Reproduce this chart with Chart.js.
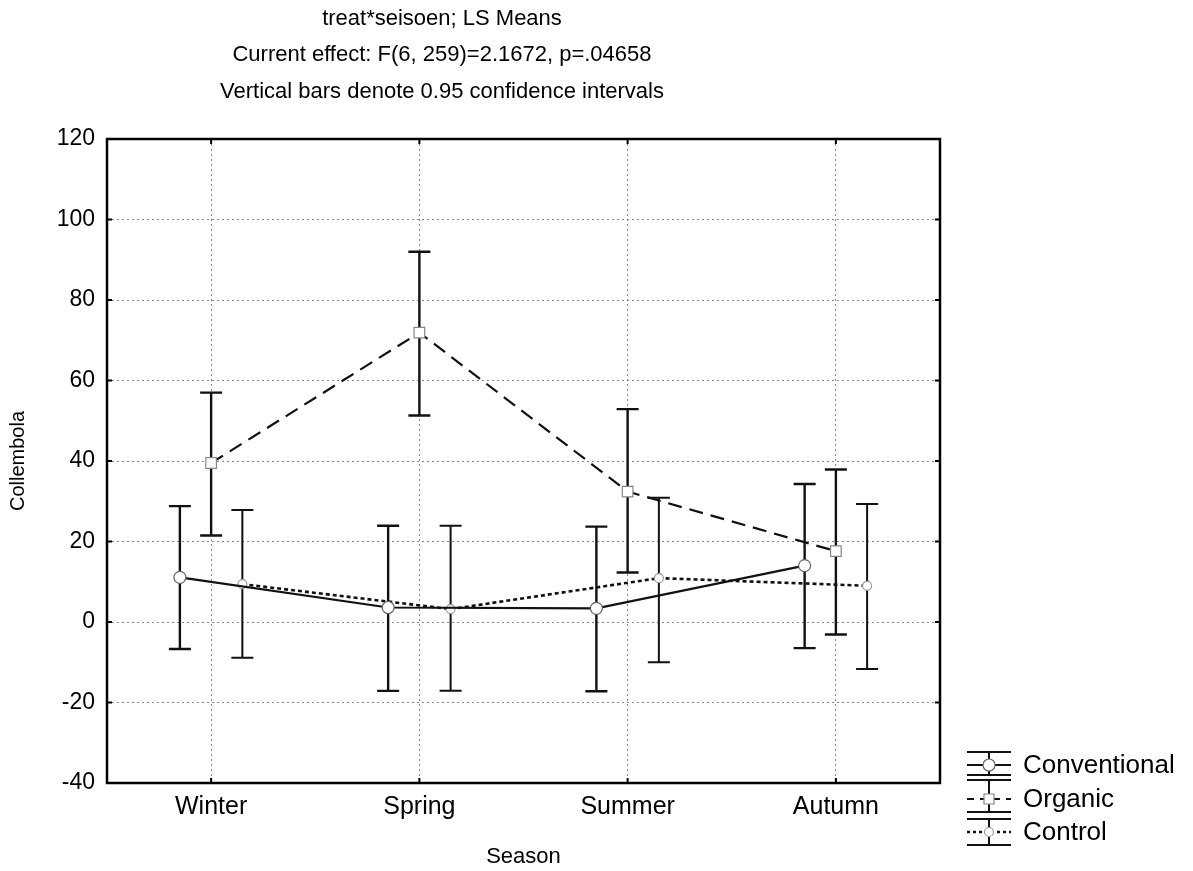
<!DOCTYPE html>
<html>
<head>
<meta charset="utf-8">
<script src="https://cdn.jsdelivr.net/npm/chart.js@4"></script>
<style>
html,body{margin:0;padding:0;background:#fff;}
#wrap{position:relative;width:1193px;height:871px;}
canvas{display:block;}
</style>
</head>
<body>
<div id="wrap"><canvas id="c" width="1193" height="871"></canvas></div>
<script>
const seasons = ['Winter', 'Spring', 'Summer', 'Autumn'];
const seriesNames = ['Conventional', 'Organic', 'Control'];
const conventionalMean = [11.1, 3.6, 3.4, 14.0];
const conventionalLow  = [-6.7, -17.1, -17.2, -6.5];
const conventionalHigh = [28.8, 23.9, 23.7, 34.3];
const organicMean = [39.5, 71.9, 32.4, 17.6];
const organicLow  = [21.5, 51.3, 12.3, -3.1];
const organicHigh = [57.0, 92.0, 52.9, 37.9];
const controlMean = [9.4, 3.2, 10.9, 9.0];
const controlLow  = [-8.9, -17.1, -10.0, -11.7];
const controlHigh = [27.8, 23.9, 30.9, 29.3];
const yTicks = [-40, -20, 0, 20, 40, 60, 80, 100, 120];
const titleLines = ['treat*seisoen; LS Means', 'Current effect: F(6, 259)=2.1672, p=.04658', 'Vertical bars denote 0.95 confidence intervals'];

const FONT = '"Liberation Sans", Arial, sans-serif';
const offsets = [-0.15, 0, 0.15];
const means = [conventionalMean, organicMean, controlMean];
const lows = [conventionalLow, organicLow, controlLow];
const highs = [conventionalHigh, organicHigh, controlHigh];
const styles = [
  {dash: [], width: 2.2, pointStyle: 'circle', radius: 6, barWidth: 2.4, pborder: '#666'},
  {dash: [14, 8], width: 2.2, pointStyle: 'rect', radius: 7.5, barWidth: 2.4, pborder: '#888'},
  {dash: [4, 3], width: 2.6, pointStyle: 'circle', radius: 4.5, barWidth: 2.0, pborder: '#999'}
];

const datasets = seriesNames.map((name, s) => ({
  label: name,
  data: means[s].map((v, i) => ({x: i + offsets[s], y: v})),
  borderColor: '#111',
  borderWidth: styles[s].width,
  borderDash: styles[s].dash,
  pointStyle: styles[s].pointStyle,
  pointRadius: styles[s].radius,
  pointBackgroundColor: '#fff',
  pointBorderColor: styles[s].pborder,
  pointBorderWidth: 1.2,
  tension: 0,
  fill: false
}));

const errorBars = {
  id: 'errorBars',
  beforeDatasetsDraw(chart) {
    const {ctx} = chart;
    const xs = chart.scales.x, ys = chart.scales.y;
    ctx.save();
    ctx.strokeStyle = '#111';
    for (let s = 0; s < 3; s++) {
      ctx.lineWidth = styles[s].barWidth;
      for (let i = 0; i < seasons.length; i++) {
        const x = xs.getPixelForValue(i + offsets[s]);
        const yl = ys.getPixelForValue(lows[s][i]);
        const yh = ys.getPixelForValue(highs[s][i]);
        ctx.beginPath();
        ctx.moveTo(x, yl); ctx.lineTo(x, yh);
        ctx.moveTo(x - 11, yl); ctx.lineTo(x + 11, yl);
        ctx.moveTo(x - 11, yh); ctx.lineTo(x + 11, yh);
        ctx.stroke();
      }
    }
    ctx.restore();
  },
  afterDraw(chart) {
    const {ctx, chartArea: a} = chart;
    const xs = chart.scales.x, ys = chart.scales.y;
    ctx.save();
    // frame
    ctx.strokeStyle = '#000';
    ctx.lineWidth = 2.5;
    ctx.strokeRect(a.left, a.top, a.right - a.left, a.bottom - a.top);
    // inner ticks
    ctx.lineWidth = 2;
    ctx.beginPath();
    yTicks.forEach(v => {
      const y = ys.getPixelForValue(v);
      ctx.moveTo(a.left, y); ctx.lineTo(a.left + 5, y);
      ctx.moveTo(a.right, y); ctx.lineTo(a.right - 5, y);
    });
    seasons.forEach((_, i) => {
      const x = xs.getPixelForValue(i);
      ctx.moveTo(x, a.top); ctx.lineTo(x, a.top + 5);
      ctx.moveTo(x, a.bottom); ctx.lineTo(x, a.bottom - 5);
    });
    ctx.stroke();

    // titles
    ctx.fillStyle = '#000';
    ctx.font = '22px ' + FONT;
    ctx.textAlign = 'center';
    ctx.textBaseline = 'middle';
    const ty = [19, 55, 92];
    titleLines.forEach((t, k) => ctx.fillText(t, 442, ty[k]));

    // legend
    const lx0 = 967, lx1 = 1011, lc = 989;
    const rows = [
      {top: 752, mid: 765, bot: 775},
      {top: 780, mid: 799, bot: 812},
      {top: 819, mid: 832, bot: 845}
    ];
    rows.forEach((r, s) => {
      ctx.strokeStyle = '#111';
      ctx.lineWidth = 2;
      ctx.setLineDash([]);
      ctx.beginPath();
      ctx.moveTo(lx0, r.top); ctx.lineTo(lx1, r.top);
      ctx.moveTo(lx0, r.bot); ctx.lineTo(lx1, r.bot);
      ctx.moveTo(lc, r.top); ctx.lineTo(lc, r.bot);
      ctx.stroke();
      ctx.lineWidth = styles[s].width;
      ctx.setLineDash(styles[s].dash.length ? (s === 1 ? [7, 6] : [3, 3]) : []);
      ctx.beginPath();
      ctx.moveTo(lx0, r.mid); ctx.lineTo(lx1, r.mid);
      ctx.stroke();
      ctx.setLineDash([]);
      ctx.fillStyle = '#fff';
      ctx.strokeStyle = styles[s].pborder;
      ctx.lineWidth = 1.2;
      ctx.beginPath();
      if (s === 1) {
        ctx.rect(lc - 5, r.mid - 5, 10, 10);
      } else {
        ctx.arc(lc, r.mid, s === 0 ? 6 : 4.5, 0, Math.PI * 2);
      }
      ctx.fill(); ctx.stroke();
      ctx.fillStyle = '#000';
      ctx.font = '26px ' + FONT;
      ctx.textAlign = 'left';
      ctx.textBaseline = 'middle';
      ctx.fillText(seriesNames[s], 1023, r.mid + 1);
    });
    ctx.restore();
  }
};

new Chart(document.getElementById('c'), {
  type: 'line',
  data: {datasets},
  options: {
    responsive: false,
    animation: false,
    layout: {padding: {top: 139, right: 253, left: 0, bottom: 0}},
    plugins: {legend: {display: false}, tooltip: {enabled: false}, title: {display: false}},
    scales: {
      x: {
        type: 'linear',
        min: -0.5,
        max: 3.5,
        afterBuildTicks(scale) { scale.ticks = seasons.map((_, i) => ({value: i})); },
        afterFit(scale) { scale.height = 88; },
        ticks: {
          callback: (v) => seasons[v],
          font: {size: 25, family: FONT},
          color: '#000',
          padding: 9,
          autoSkip: false,
          maxRotation: 0
        },
        grid: {color: '#888', lineWidth: 1, drawTicks: false},
        border: {display: false, dash: [2, 3]},
        title: {display: true, text: 'Season', font: {size: 22, family: FONT}, color: '#000', padding: {top: 0, bottom: 1}}
      },
      y: {
        type: 'linear',
        min: -40,
        max: 120,
        afterBuildTicks(scale) { scale.ticks = yTicks.map(v => ({value: v})); },
        afterFit(scale) { scale.width = 107; },
        ticks: {
          font: {size: 23, family: FONT},
          color: '#000',
          padding: 12
        },
        grid: {color: '#888', lineWidth: 1, drawTicks: false},
        border: {display: false, dash: [2, 3]},
        title: {display: true, text: 'Collembola', font: {size: 20, family: FONT}, color: '#000', padding: {top: 6, bottom: 0}}
      }
    }
  },
  plugins: [errorBars]
});
</script>
</body>
</html>
